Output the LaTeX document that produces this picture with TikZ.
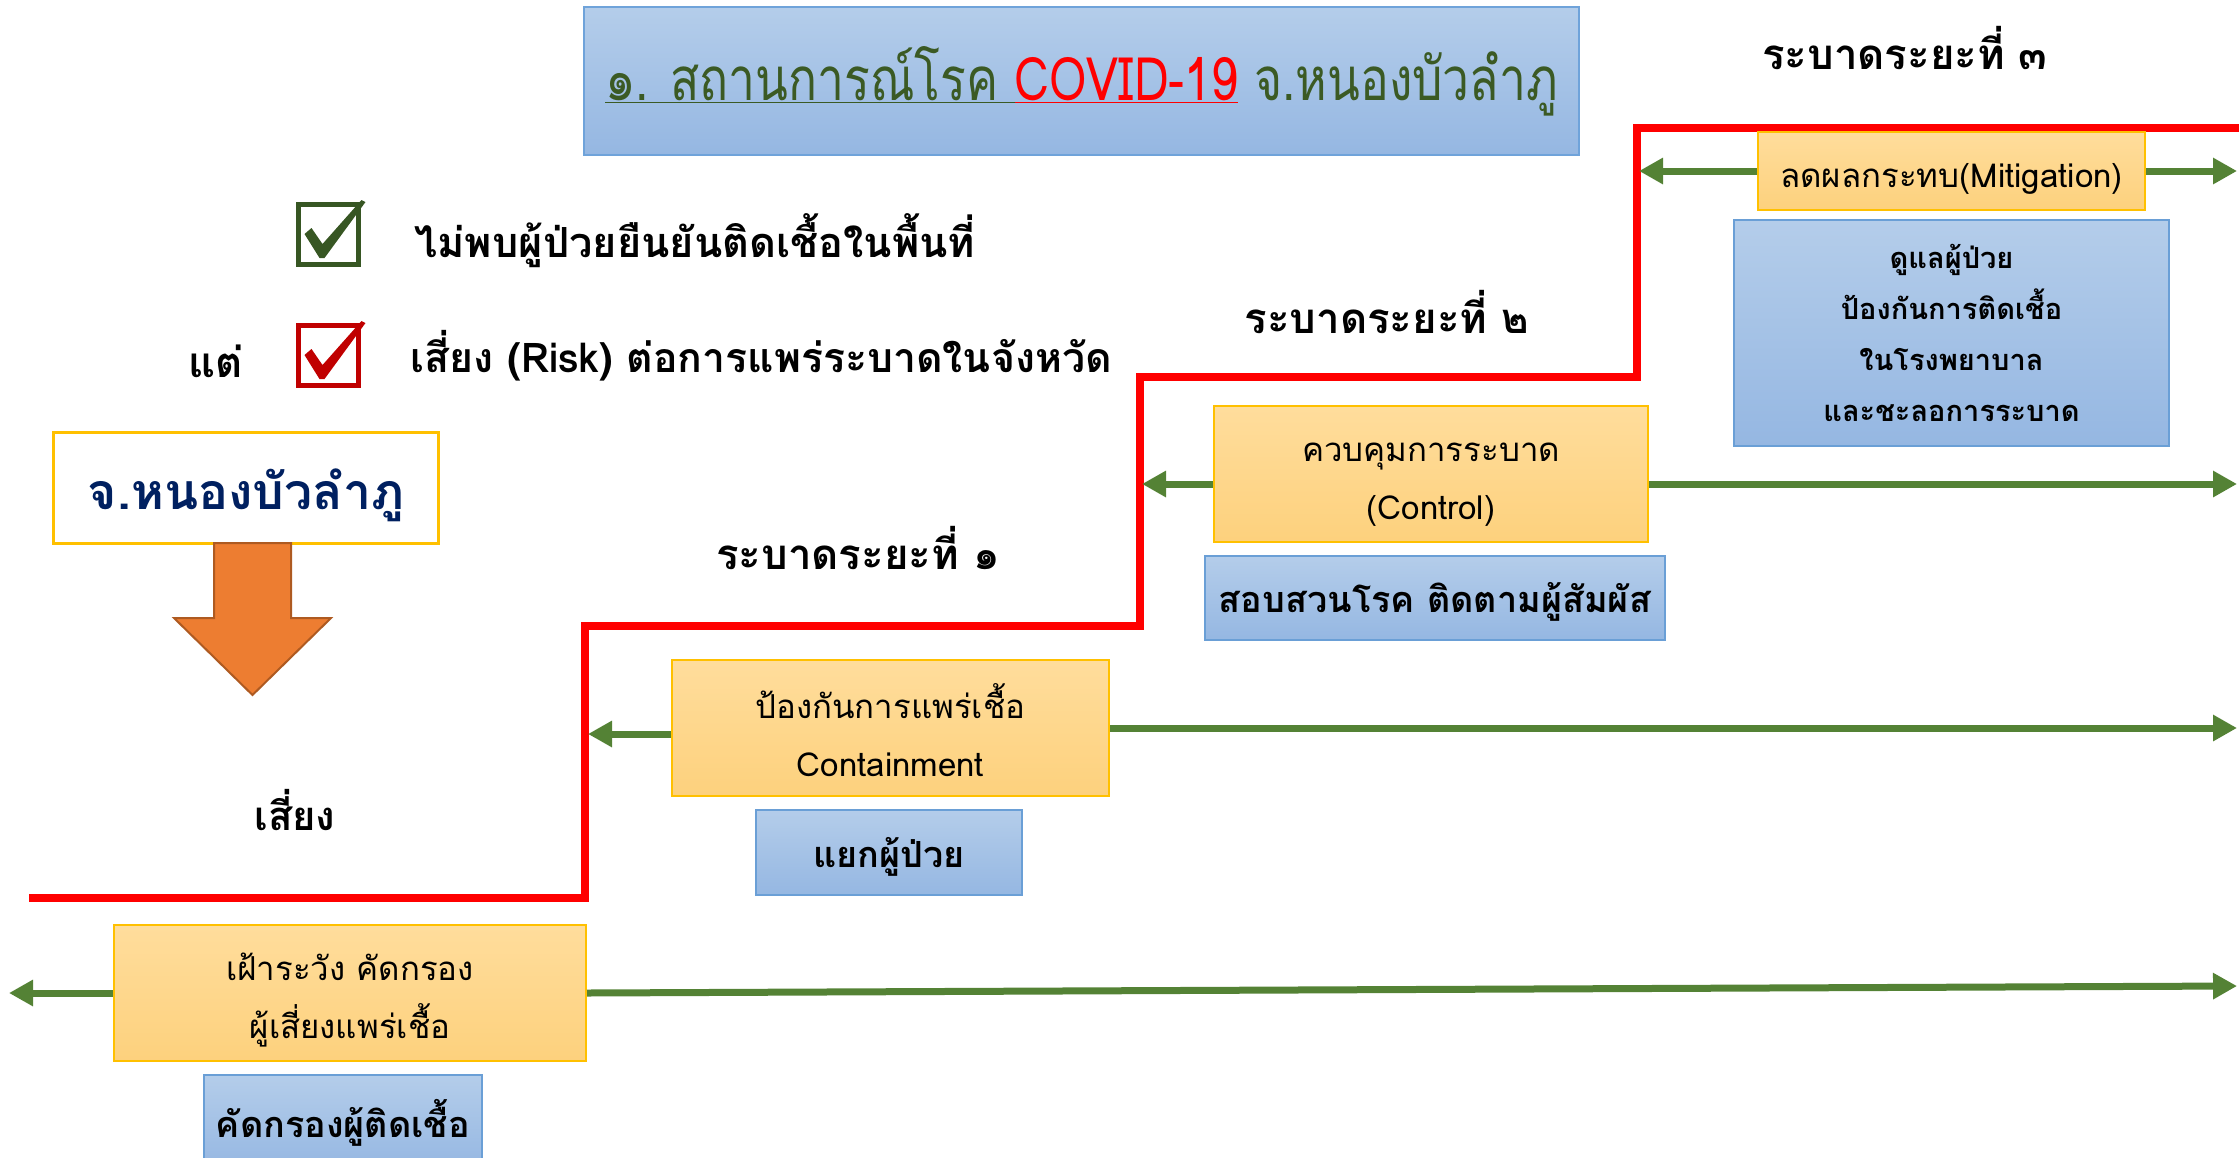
\documentclass[tikz,border=0pt]{standalone}
\usepackage{fontspec}
\setmainfont{Loma}[Script=Thai]
\newfontfamily\titleFont{Loma}[Script=Thai, FakeStretch=0.8]
\usetikzlibrary{arrows.meta}
\definecolor{titleGreen}{HTML}{3B5A24}
\definecolor{titleBorder}{HTML}{6FA3DA}
\definecolor{riskRed}{HTML}{FF0000}
\definecolor{tickGreen}{HTML}{375623}
\definecolor{tickRed}{HTML}{C00000}
\definecolor{arrowGreen}{HTML}{548235}
\definecolor{orangeTop}{HTML}{FFDD9C}
\definecolor{orangeBottom}{HTML}{FDD17D}
\definecolor{goldBorder}{HTML}{FFC000}
\definecolor{blueTop}{HTML}{B4CDEA}
\definecolor{blueBottom}{HTML}{95B7E2}
\definecolor{blueBorder}{HTML}{6A9FD6}
\definecolor{provinceNavy}{HTML}{002060}
\definecolor{blockOrange}{HTML}{ED7D31}
\definecolor{blockOrangeBorder}{HTML}{AE5A21}
\def\textA{\rule{0pt}{42bp}เฝ้าระวัง คัดกรอง\\ผู้เสี่ยงแพร่เชื้อ}
\def\textB{\rule{0pt}{40bp}ป้องกันการแพร่เชื้อ\\Containment}
\def\textC{\rule{0pt}{40bp}ควบคุมการระบาด\\(Control)}
\def\textD{\rule{0pt}{40bp}ลดผลกระทบ(Mitigation)}
\def\measureA{คัดกรองผู้ติดเชื้อ}
\def\measureB{\rule{0pt}{38bp}แยกผู้ป่วย}
\def\measureC{\rule{0pt}{38bp}สอบสวนโรค ติดตามผู้สัมผัส}
\def\measureD{ดูแลผู้ป่วย\\ป้องกันการติดเชื้อ\\ในโรงพยาบาล\\และชะลอการระบาด}
\tikzset{
  actionBox/.style={draw=goldBorder, line width=2bp, top color=orangeTop,
    bottom color=orangeBottom, align=center, inner sep=0pt,
    font=\fontsize{33bp}{58bp}\selectfont},
  measureBox/.style={draw=blueBorder, line width=2bp, top color=blueTop,
    bottom color=blueBottom, align=center, inner sep=0pt,
    font=\fontsize{36bp}{44bp}\selectfont\bfseries},
  tickBox/.style={draw, line width=5bp, minimum size=60bp, inner sep=0pt},
  spreadArrow/.style={draw=arrowGreen, line width=7bp,
    -{Triangle[length=24bp,width=25bp]}},
  phaseLabel/.style={anchor=base, font=\fontsize{42bp}{50bp}\selectfont\bfseries},
  riskLine/.style={draw=riskRed, line width=8bp},
}

\begin{document}
\begin{tikzpicture}[x=1bp,y=-1bp]
\useasboundingbox (0,0) rectangle (2239,1157);
\clip (0,0) rectangle (2239,1157);

% title
\node[measureBox, draw=titleBorder, minimum width=995bp, minimum height=148bp,
  font=\titleFont\fontsize{60bp}{70bp}\selectfont, text=titleGreen] (titleBox)
  at (1081.5,81)
  {{\color{titleGreen}\underline{๑. สถานการณ์โรค\ }}{\color{riskRed}\underline{COVID-19}} จ.หนองบัวลำภู};

% status lines
\node[tickBox, draw=tickGreen] (okBox) at (328.5,234) {};
\begin{scope}[shift={(okBox.center)}]
\fill[tickGreen] (-24,0) -- (-17,-6) -- (-6,10) -- (33,-34) -- (37,-32)
  -- (-4,24) -- (-9,24) -- cycle;
\end{scope}
\node[anchor=base west, font=\fontsize{41.5bp}{50bp}\selectfont\bfseries] (okText)
  at (411,257) {ไม่พบผู้ป่วยยืนยันติดเชื้อในพื้นที่};

\node[anchor=base, font=\fontsize{42bp}{50bp}\selectfont\bfseries] (butText)
  at (216,377) {แต่};
\node[tickBox, draw=tickRed] (riskBox) at (328.5,355) {};
\begin{scope}[shift={(riskBox.center)}]
\fill[tickRed] (-24,0) -- (-17,-6) -- (-6,10) -- (33,-34) -- (37,-32)
  -- (-4,24) -- (-9,24) -- cycle;
\end{scope}
\node[anchor=base west, font=\fontsize{41bp}{50bp}\selectfont\bfseries] (riskText)
  at (407,372) {เสี่ยง (Risk) ต่อการแพร่ระบาดในจังหวัด};

% province
\node[draw=goldBorder, line width=3bp, fill=white, minimum width=384bp,
  minimum height=111bp, text=provinceNavy,
  font=\fontsize{50bp}{56bp}\selectfont\bfseries] (province) at (246,487.5)
  {\rule{0pt}{56bp}จ.หนองบัวลำภู};
\fill[blockOrange, draw=blockOrangeBorder, line width=2bp]
  (214,543) -- (291,543) -- (291,618) -- (331,618) -- (252.5,695)
  -- (174,618) -- (214,618) -- cycle;
\node[anchor=base, font=\fontsize{40bp}{48bp}\selectfont\bfseries] (riskWord)
  at (295,830) {เสี่ยง};

% risk staircase
\draw[riskLine] (29,898) -- (585,898) -- (585,626) -- (1140,626) -- (1140,377)
  -- (1637,377) -- (1637,128) -- (2239,128);

% phase labels
\node[phaseLabel] (phaseOne) at (858,569) {ระบาดระยะที่ ๑};
\node[phaseLabel] (phaseTwo) at (1387,333) {ระบาดระยะที่ ๒};
\node[phaseLabel] (phaseThree) at (1905,69) {ระบาดระยะที่ ๓};

% action boxes
\node[actionBox, minimum width=472bp, minimum height=136bp] (watchBox)
  at (350,993) {\textA};
\node[actionBox, minimum width=437bp, minimum height=136bp] (containBox)
  at (890.5,728) {\textB};
\node[actionBox, minimum width=434bp, minimum height=136bp] (controlBox)
  at (1431,474) {\textC};
\node[actionBox, minimum width=387bp, minimum height=78bp] (mitigateBox)
  at (1951.5,171) {\textD};

% measure boxes
\node[measureBox, minimum width=278bp, minimum height=95bp] (screenBox)
  at (343,1122.5) {\measureA};
\node[measureBox, minimum width=266bp, minimum height=85bp] (isolateBox)
  at (889,852.5) {\measureB};
\node[measureBox, minimum width=460bp, minimum height=84bp] (traceBox)
  at (1435,598) {\measureC};
\node[measureBox, minimum width=435bp, minimum height=226bp,
  font=\fontsize{29bp}{51bp}\selectfont\bfseries] (careBox)
  at (1951.5,333) {\measureD};

% arrows
\coordinate (watchLeft) at (9,993);
\coordinate (watchRight) at (2237,986);
\coordinate (containLeft) at (588,734);
\coordinate (containRight) at (2237,728);
\coordinate (controlLeft) at (1142,484);
\coordinate (controlRight) at (2237,484);
\coordinate (mitigateLeft) at (1639,171);
\coordinate (mitigateRight) at (2237,171);
\draw[spreadArrow] (watchBox.west) -- (watchLeft);
\draw[spreadArrow] (watchBox.east) -- (watchRight);
\draw[spreadArrow] (containBox.west |- containLeft) -- (containLeft);
\draw[spreadArrow] (containBox.east) -- (containRight);
\draw[spreadArrow] (controlBox.west |- controlLeft) -- (controlLeft);
\draw[spreadArrow] (controlBox.east |- controlRight) -- (controlRight);
\draw[spreadArrow] (mitigateBox.west) -- (mitigateLeft);
\draw[spreadArrow] (mitigateBox.east) -- (mitigateRight);
\end{tikzpicture}
\end{document}
